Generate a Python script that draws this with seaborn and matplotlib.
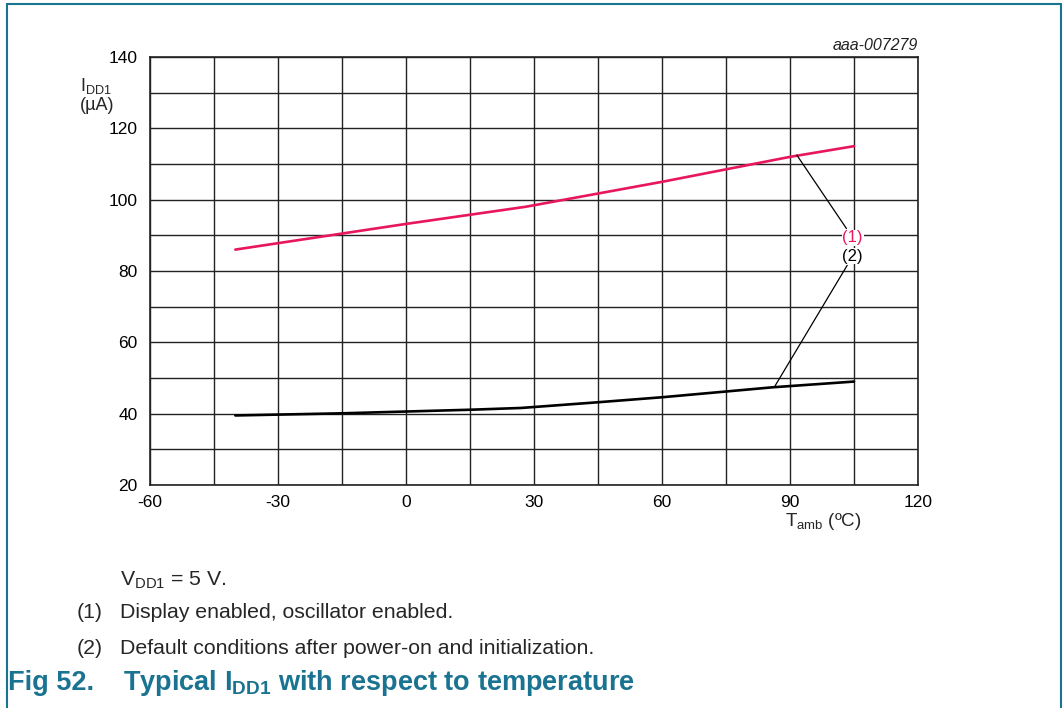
import matplotlib
matplotlib.use("Agg")
import matplotlib.pyplot as plt
import seaborn as sns
import pandas as pd
from matplotlib.lines import Line2D

# ---- data ----
temp_1 = [-40, -15, 0, 28, 60, 90, 105]
idd_1 = [86.0, 90.5, 93.2, 98.0, 105.0, 112.0, 115.0]
temp_2 = [-40, -15, 0, 15, 27, 45, 60, 86, 105]
idd_2 = [39.5, 40.1, 40.6, 41.1, 41.6, 43.2, 44.6, 47.4, 49.0]
x_ticks = [-60, -30, 0, 30, 60, 90, 120]
y_ticks = [20, 40, 60, 80, 100, 120, 140]

sns.set_theme(style="white")
plt.rcParams['font.family'] = ['Liberation Sans', 'DejaVu Sans']
plt.rcParams['axes.unicode_minus'] = False
plt.rcParams['mathtext.fontset'] = 'custom'
plt.rcParams['mathtext.rm'] = 'Liberation Sans'
plt.rcParams['mathtext.it'] = 'Liberation Sans:italic'
plt.rcParams['mathtext.bf'] = 'Liberation Sans:bold'

W, H = 1063, 708
fig = plt.figure(figsize=(W / 100, H / 100), dpi=100)
fig.patch.set_facecolor('white')
ax = fig.add_axes([150 / W, 1 - 485 / H, (918 - 150) / W, (485 - 57) / H])

RED = '#e8175d'
df1 = pd.DataFrame({'T': temp_1, 'I': idd_1})
df2 = pd.DataFrame({'T': temp_2, 'I': idd_2})
sns.lineplot(data=df1, x='T', y='I', ax=ax, color=RED, linewidth=1.9, zorder=3)
sns.lineplot(data=df2, x='T', y='I', ax=ax, color='black', linewidth=1.9, zorder=3)

ax.set_xlim(-60, 120)
ax.set_ylim(20, 140)
ax.set_xticks(x_ticks)
ax.set_yticks(y_ticks)
ax.set_xticks(range(-60, 121, 15), minor=True)
ax.set_yticks(range(20, 141, 10), minor=True)
ax.grid(True, which='both', color='#222222', linewidth=1.0)
ax.tick_params(axis='both', which='both', length=0, labelsize=12.5, colors='black')
ax.tick_params(axis='y', pad=9)
ax.tick_params(axis='x', pad=7)
for s in ax.spines.values():
    s.set_color('#222222')
    s.set_linewidth(1.2)
ax.set_xlabel('')
ax.set_ylabel('')

# annotations (leader lines)
ax.annotate('(1)', xy=(91.6, 112.5), xytext=(102.3, 89.3), color=RED, fontsize=12,
            va='center', ha='left',
            arrowprops=dict(arrowstyle='-', color='black', lw=0.9, shrinkA=1, shrinkB=0))
ax.annotate('(2)', xy=(86.5, 47.8), xytext=(102.3, 84.2), color='black', fontsize=12,
            va='center', ha='left',
            arrowprops=dict(arrowstyle='-', color='black', lw=0.9, shrinkA=1, shrinkB=0))
for t in ax.texts:
    t.set_bbox(dict(facecolor='white', edgecolor='none', pad=0.5))

# labels
fig.text(918 / W, 1 - 45 / H, 'aaa-007279', ha='right', va='center', fontsize=11.5,
         style='italic', color='#222222')
fig.text(80 / W, 1 - 86 / H, r'I$_{\mathregular{DD1}}$', ha='left', va='center', fontsize=13)
fig.text(80 / W, 1 - 105 / H, '(µA)', ha='left', va='center', fontsize=13)
fig.text(785 / W, 1 - 522 / H, r'T$_{\mathregular{amb}}$ (ºC)', ha='left', va='center', fontsize=13.5)

# footnotes
FS = 15.3
fig.text(120 / W, 1 - 580 / H, r'V$_{\mathregular{DD1}}$ = 5 V.', ha='left', va='center', fontsize=FS)
fig.text(77 / W, 1 - 612 / H, '(1)', ha='left', va='center', fontsize=FS)
fig.text(120 / W, 1 - 612 / H, 'Display enabled, oscillator enabled.', ha='left', va='center', fontsize=FS)
fig.text(77 / W, 1 - 648 / H, '(2)', ha='left', va='center', fontsize=FS)
fig.text(120 / W, 1 - 648 / H, 'Default conditions after power-on and initialization.', ha='left',
         va='center', fontsize=FS)
TEAL = '#1a7390'
fig.text(8 / W, 1 - 683 / H, 'Fig 52.', ha='left', va='center', fontsize=19.5,
         fontweight='bold', color=TEAL)
fig.text(123 / W, 1 - 683 / H, r'Typical I$_{\mathbf{DD1}}$ with respect to temperature', ha='left',
         va='center', fontsize=19.5, fontweight='bold', color=TEAL)

# frame
fig.add_artist(Line2D([7 / W, 7 / W], [0, 1 - 4 / H], color=TEAL, lw=1.5))
fig.add_artist(Line2D([7 / W, 1061 / W], [1 - 4 / H, 1 - 4 / H], color=TEAL, lw=1.5))
fig.add_artist(Line2D([1061 / W, 1061 / W], [0, 1 - 4 / H], color=TEAL, lw=1.5))

fig.savefig('out.png', dpi=100, facecolor='white')
